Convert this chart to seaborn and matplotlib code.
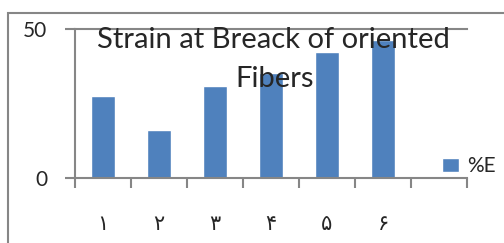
import pandas as pd
import numpy as np
import matplotlib.pyplot as plt
import matplotlib.patches as patches
import seaborn as sns

# values
categories = ['۱', '۲', '۳', '۴', '۵', '۶']
strain = [27.6, 16.2, 30.9, 35.3, 42.2, 46.3]
series_name = '%E'
title_lines = ['Strain at Breack of oriented', 'Fibers']

df = pd.DataFrame({'sample': categories, 'strain': strain})

sns.set_style('white')
plt.rcParams['font.family'] = ['Lato', 'DejaVu Sans']

W, H = 504, 243
fig = plt.figure(figsize=(W / 100, H / 100), dpi=100)
ax = fig.add_axes([75 / W, 1 - 178 / H, (467 - 75) / W, (178 - 29) / H])

gray = '#868686'
blue = '#4F81BD'

sns.barplot(data=df, x='sample', y='strain', order=categories, color=blue,
            width=0.43, saturation=1, ax=ax, label=series_name)
if ax.get_legend() is not None:
    ax.get_legend().remove()

ax.set_xlim(-0.5, 6.5)
ax.set_ylim(0, 50)
ax.set_xlabel('')
ax.set_ylabel('')

# axes look
ax.spines['right'].set_visible(False)
for s in ['left', 'bottom', 'top']:
    ax.spines[s].set_color(gray)
    ax.spines[s].set_linewidth(1.5)

ax.set_yticks([0, 50])
ax.set_yticklabels(['0', '50'], fontsize=15)
ax.tick_params(axis='y', length=7, width=1.5, color=gray, pad=13, direction='out', left=True)

ax.set_xticks(range(6))
ax.set_xticklabels(categories, fontsize=15, family=['DejaVu Sans'])
ax.set_xticks(np.arange(-0.5, 7, 1), minor=True)
ax.tick_params(axis='x', which='major', length=0, pad=26)
ax.tick_params(axis='x', which='minor', length=7, width=1.5, color=gray, direction='out', bottom=True)

# title overlapping the plot area
cx = (75 + 467) / 2 / W
fig.text(cx + 2 / W, 1 - 47.5 / H, title_lines[0], ha='center', va='baseline', fontsize=21)
fig.text(cx + 4 / W, 1 - 87 / H, title_lines[1], ha='center', va='baseline', fontsize=21)

# legend
fig.legend(*ax.get_legend_handles_labels(), loc='upper left',
           bbox_to_anchor=(438 / W, 1 - 152 / H), frameon=False,
           fontsize=15, handlelength=0.8, handleheight=0.7, handletextpad=0.4,
           borderpad=0.2, borderaxespad=0)

# outer chart border
fig.patches.append(patches.Rectangle((8 / W, -0.1), 1.2, 1 - 13 / H + 0.1,
                                     transform=fig.transFigure, fill=False,
                                     edgecolor=gray, linewidth=1.5))

fig.savefig('out.png', dpi=100)
